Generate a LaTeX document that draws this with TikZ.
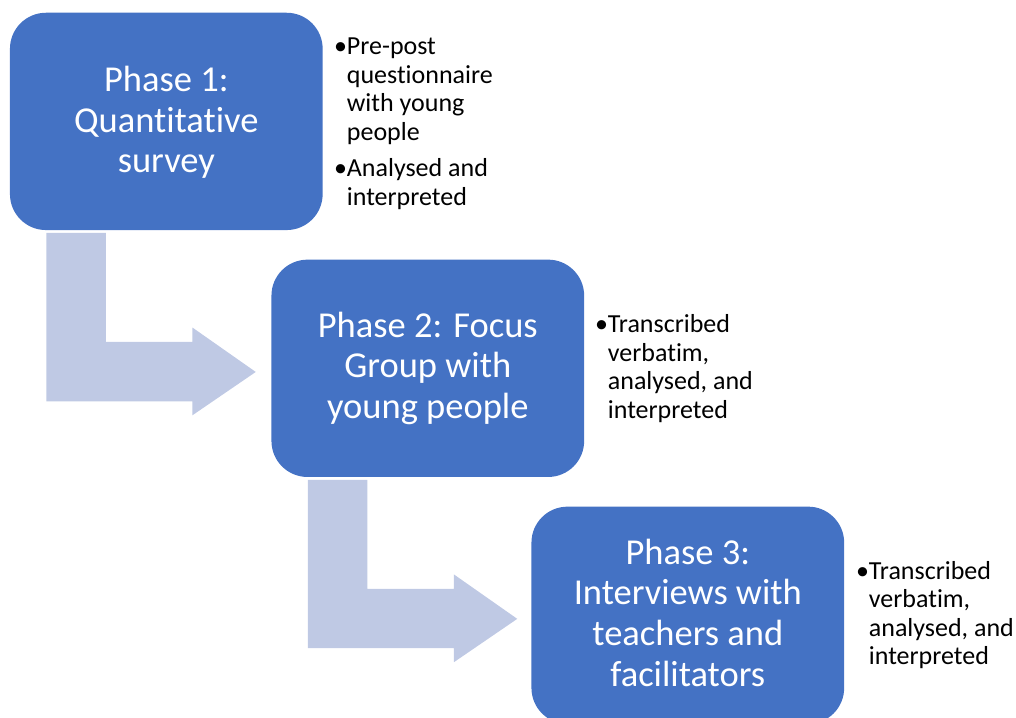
\documentclass[tikz,border=0pt]{standalone}
\usepackage{fontspec}
\setmainfont{Carlito}[Ligatures={NoCommon}]
\definecolor{boxblue}{RGB}{68,114,196}
\definecolor{arrowfill}{RGB}{191,201,228}
\tikzset{
  phasebox/.style={draw=none, fill=boxblue, rounded corners=36pt, minimum width=312.7pt, minimum height=217.3pt, inner sep=0pt},
  phasetext/.style={text=white, font=\fontsize{36.5}{40.7}\selectfont, anchor=base, inner sep=0pt},
  bullettext/.style={text=black, font=\fontsize{26}{28.6}\selectfont, anchor=base west, inner sep=0pt},
  bentarrow/.style={fill=arrowfill, draw=none}
}
\newcommand\bul{\makebox[12.7pt][l]{•}}
\begin{document}
\begin{tikzpicture}[x=1pt, y=-1pt]
\useasboundingbox (0,0) rectangle (1016,717);
\clip (0,0) rectangle (1016,717);
% boxes
\node[phasebox] (p1) at (166.3,121.4) {};
\node[phasebox] (p2) at (427.8,368.3) {};
\node[phasebox] (p3) at (687.8,615.3) {};
% bent arrows
\fill[bentarrow, shift={(p1.south west)}]
  (36.7,2.7) -- (96,2.7) -- (96,111.7) -- (182.7,111.7) -- (182.7,97.3)
  -- (246,141.7) -- (182.7,185) -- (182.7,171) -- (36.7,171) -- cycle;
\fill[bentarrow, shift={(p2.south west)}]
  (36.7,2.7) -- (96,2.7) -- (96,111.7) -- (182.7,111.7) -- (182.7,97.3)
  -- (246,141.7) -- (182.7,185) -- (182.7,171) -- (36.7,171) -- cycle;
% box texts
\node[phasetext] (t1) at (166.3,91.5) {\begin{tabular}[t]{@{}c@{}}Phase 1:\\Quantitative\\survey\end{tabular}};
\node[phasetext] (t2) at (427.8,337) {\begin{tabular}[t]{@{}c@{}}Phase 2: Focus\\Group with\\young people\end{tabular}};
\node[phasetext] (t3) at (687.8,564) {\begin{tabular}[t]{@{}c@{}}Phase 3:\\Interviews with\\teachers and\\facilitators\end{tabular}};
% bullet texts
\node[bullettext] (b1) at (334,54.5) {\begin{tabular}[t]{@{}l@{}l@{}}\bul&Pre-post\\&questionnaire\\&with young\\&people\\[7.8pt]\bul&Analysed and\\&interpreted\end{tabular}};
\node[bullettext] (b2) at (595,332.5) {\begin{tabular}[t]{@{}l@{}l@{}}\bul&Transcribed\\&verbatim,\\&analysed, and\\&interpreted\end{tabular}};
\node[bullettext] (b3) at (856,579) {\begin{tabular}[t]{@{}l@{}l@{}}\bul&Transcribed\\&verbatim,\\&analysed, and\\&interpreted\end{tabular}};
\end{tikzpicture}
\end{document}
